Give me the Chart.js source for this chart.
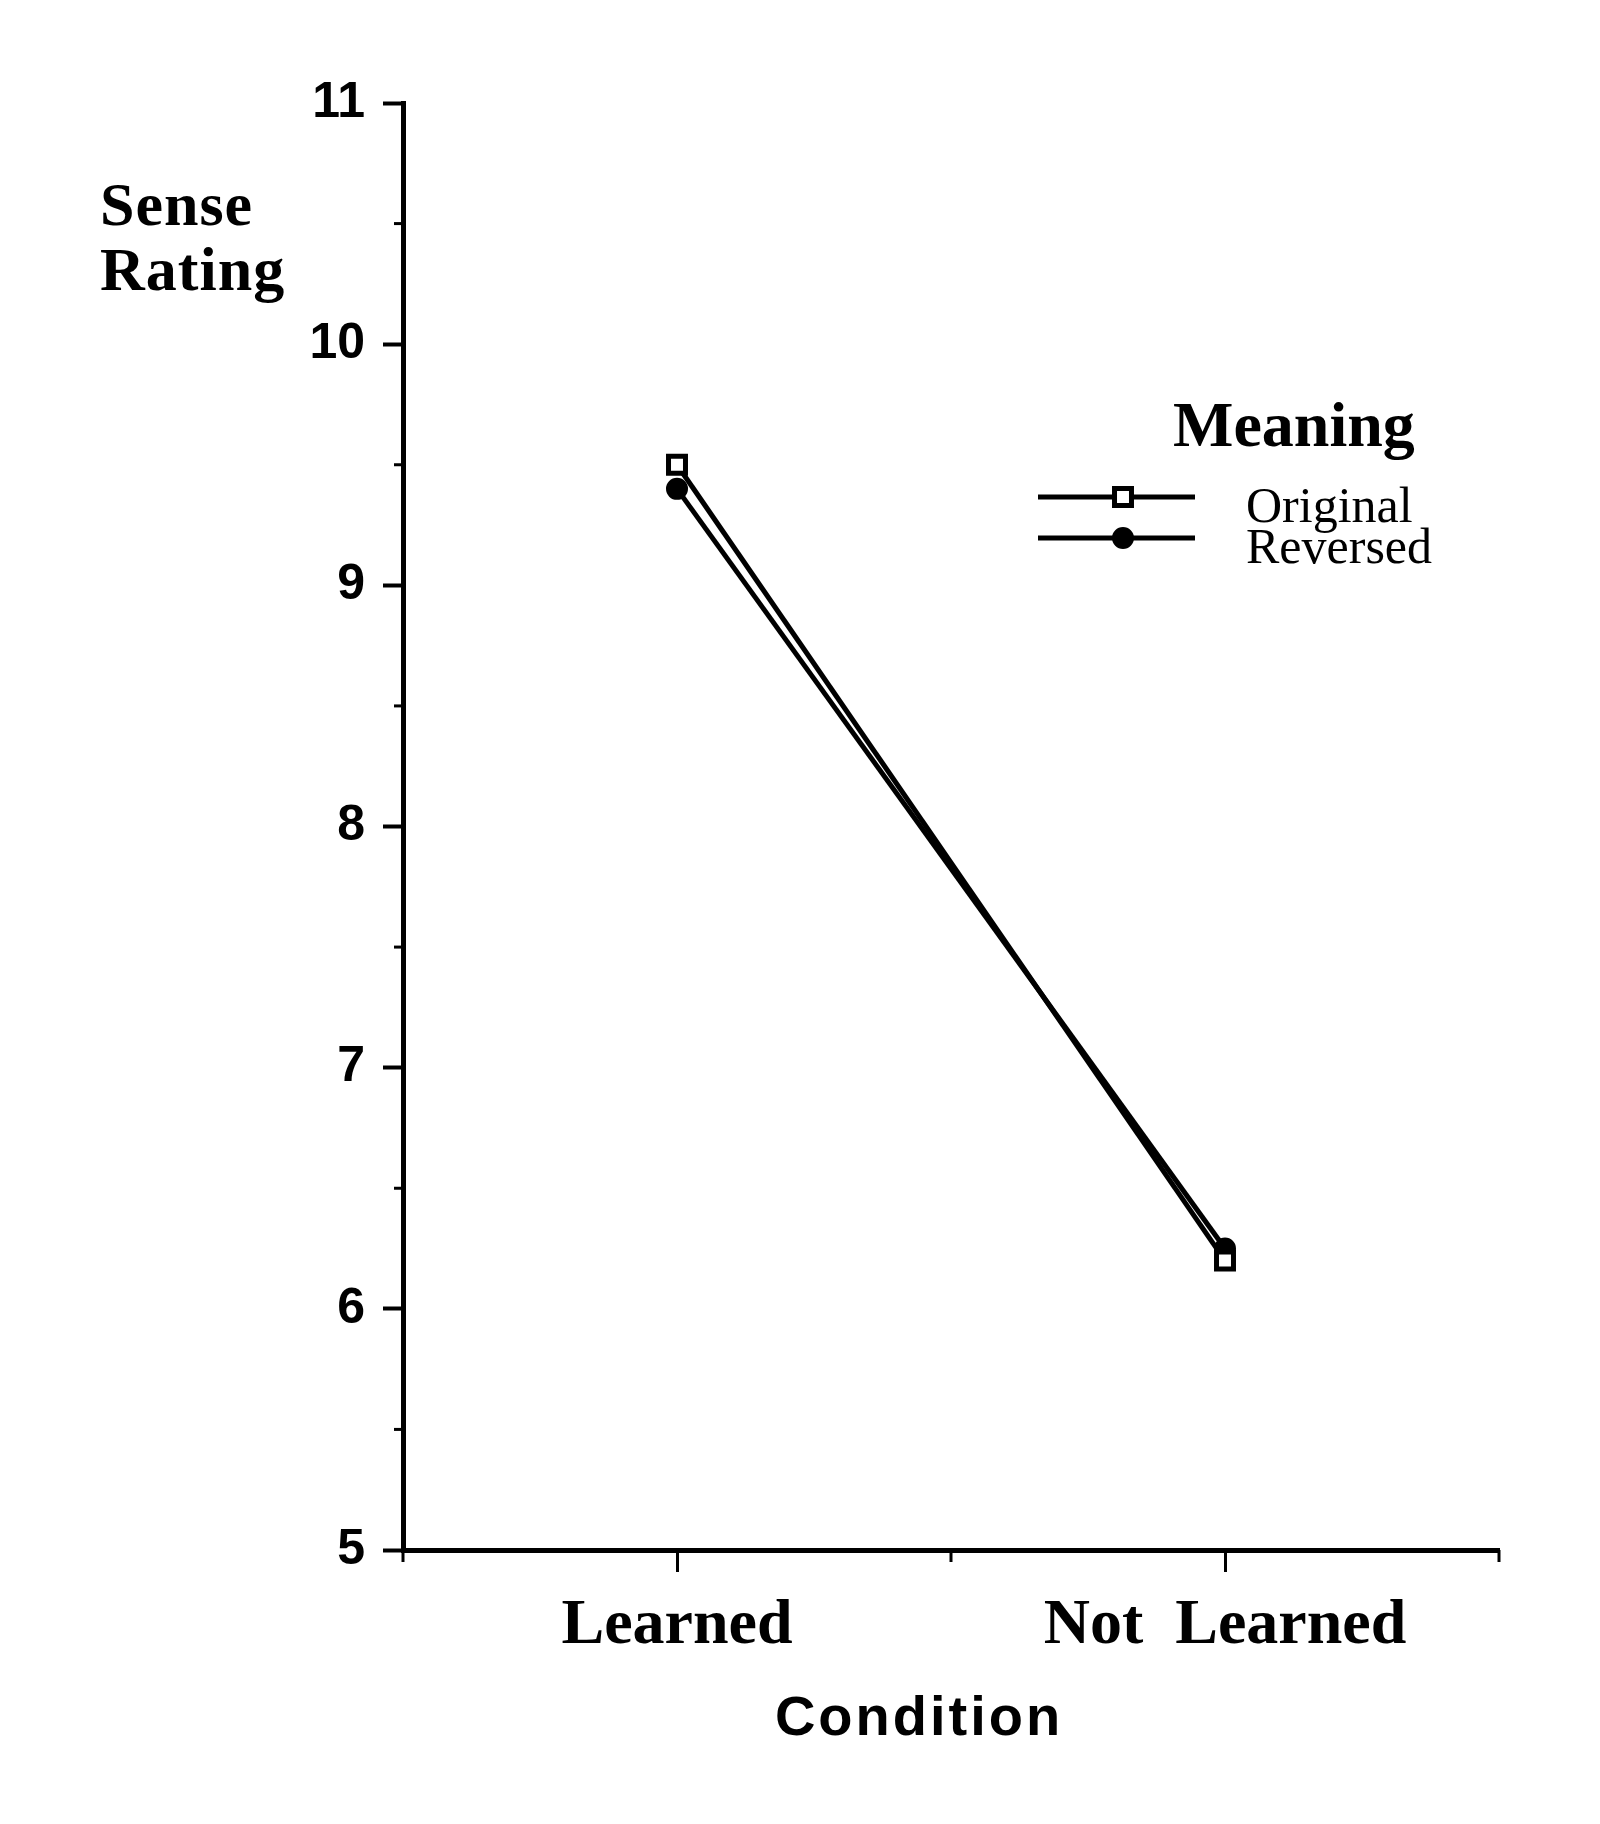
<!DOCTYPE html>
<html lang="en">
<head>
<meta charset="UTF-8">
<title>Sense Rating by Condition</title>
<script src="https://cdn.jsdelivr.net/npm/chart.js@4"></script>
<style>
  html, body { margin: 0; padding: 0; background: #fff; }
  #wrap { width: 1600px; height: 1824px; position: relative; }
</style>
</head>
<body>
<div id="wrap"><canvas id="senseChart"></canvas></div>
<script>
// values
const conditions = ['Learned', 'Not  Learned'];
const originalRatings = [9.5, 6.2];
const reversedRatings = [9.4, 6.25];
const yMin = 5;
const yMax = 11;
const legendTitle = 'Meaning';
const seriesNames = ['Original', 'Reversed'];

const ctx = document.getElementById('senseChart').getContext('2d');

// extra tick marks, legend box and axis titles
const figureExtras = {
    id: 'figureExtras',
    afterDraw(chart) {
        const c = chart.ctx;
        const area = chart.chartArea;
        const xs = chart.scales.x;
        const ys = chart.scales.y;
        c.save();
        c.strokeStyle = '#000';
        c.fillStyle = '#000';

        // half-unit minor ticks on the y axis
        c.lineWidth = 3;
        for (let v = yMin; v < yMax; v++) {
            const py = ys.getPixelForValue(v + 0.5);
            c.beginPath();
            c.moveTo(area.left - 9, py);
            c.lineTo(area.left, py);
            c.stroke();
        }
        // small ticks between / at the ends of the categories
        for (let i = -0.5; i <= conditions.length - 0.5; i += 1) {
            const px = xs.getPixelForValue(i);
            c.beginPath();
            c.moveTo(px, area.bottom);
            c.lineTo(px, area.bottom + 12);
            c.stroke();
        }

        // y axis title
        c.font = 'bold 62px "Liberation Serif"';
        c.letterSpacing = '1px';
        c.textAlign = 'left';
        c.textBaseline = 'alphabetic';
        c.fillText('Sense', 100, 225);
        c.fillText('Rating', 100, 290);

        // x axis title
        c.font = 'bold 56px "Liberation Sans"';
        c.letterSpacing = '3px';
        c.textAlign = 'center';
        c.fillText('Condition', 919, 1735);

        // legend
        c.letterSpacing = '0px';
        c.textAlign = 'left';
        c.font = 'bold 64px "Liberation Serif"';
        c.fillText(legendTitle, 1173, 446);
        c.font = '50px "Liberation Serif"';
        const rows = [497, 538];
        chart.data.datasets.forEach((ds, i) => {
            const y = rows[i];
            c.lineWidth = ds.borderWidth;
            c.strokeStyle = ds.borderColor;
            c.beginPath();
            c.moveTo(1038, y);
            c.lineTo(1195, y);
            c.stroke();
            c.fillStyle = ds.pointBackgroundColor;
            c.strokeStyle = ds.pointBorderColor;
            c.lineWidth = ds.pointBorderWidth;
            Chart.helpers.drawPoint(c, {
                pointStyle: ds.pointStyle,
                radius: ds.pointRadius,
                borderWidth: ds.pointBorderWidth,
                rotation: 0
            }, 1123, y);
            c.fillStyle = '#000';
            c.fillText(seriesNames[i], 1246, y + 25);
        });
        c.restore();
    }
};

new Chart(ctx, {
    type: 'line',
    data: {
        labels: conditions,
        datasets: [{
            label: seriesNames[0],
            data: originalRatings,
            borderColor: '#000',
            borderWidth: 5,
            tension: 0,
            pointStyle: 'rect',
            pointRadius: 12,
            pointBorderWidth: 5,
            pointBackgroundColor: '#fff',
            pointBorderColor: '#000',
            clip: false
        },
        {
            label: seriesNames[1],
            data: reversedRatings,
            borderColor: '#000',
            borderWidth: 5,
            tension: 0,
            pointStyle: 'circle',
            pointRadius: 10,
            pointBorderWidth: 2,
            pointBackgroundColor: '#000',
            pointBorderColor: '#000',
            clip: false
        }]
    },
    options: {
        responsive: true,
        maintainAspectRatio: false,
        animation: false,
        layout: {
            padding: { left: 0, right: 101, top: 103, bottom: 124 }
        },
        scales: {
            x: {
                type: 'category',
                offset: true,
                grid: {
                    offset: false,
                    drawOnChartArea: false,
                    drawTicks: true,
                    tickLength: 22,
                    tickWidth: 3,
                    tickColor: '#000'
                },
                border: { display: true, color: '#000', width: 5 },
                ticks: {
                    color: '#000',
                    padding: 16,
                    maxRotation: 0,
                    font: { family: '"Liberation Serif"', size: 64, weight: 'bold' }
                },
                afterFit: s => { s.height = 150; }
            },
            y: {
                min: yMin,
                max: yMax,
                grid: {
                    drawOnChartArea: false,
                    drawTicks: true,
                    tickLength: 20,
                    tickWidth: 4,
                    tickColor: '#000'
                },
                border: { display: true, color: '#000', width: 5 },
                ticks: {
                    stepSize: 1,
                    color: '#000',
                    padding: 18,
                    font: { family: '"Liberation Sans"', size: 50, weight: 'bold' }
                },
                afterFit: s => { s.width = 403; }
            }
        },
        plugins: {
            legend: { display: false },
            tooltip: { enabled: false }
        }
    },
    plugins: [figureExtras]
});
</script>
</body>
</html>
